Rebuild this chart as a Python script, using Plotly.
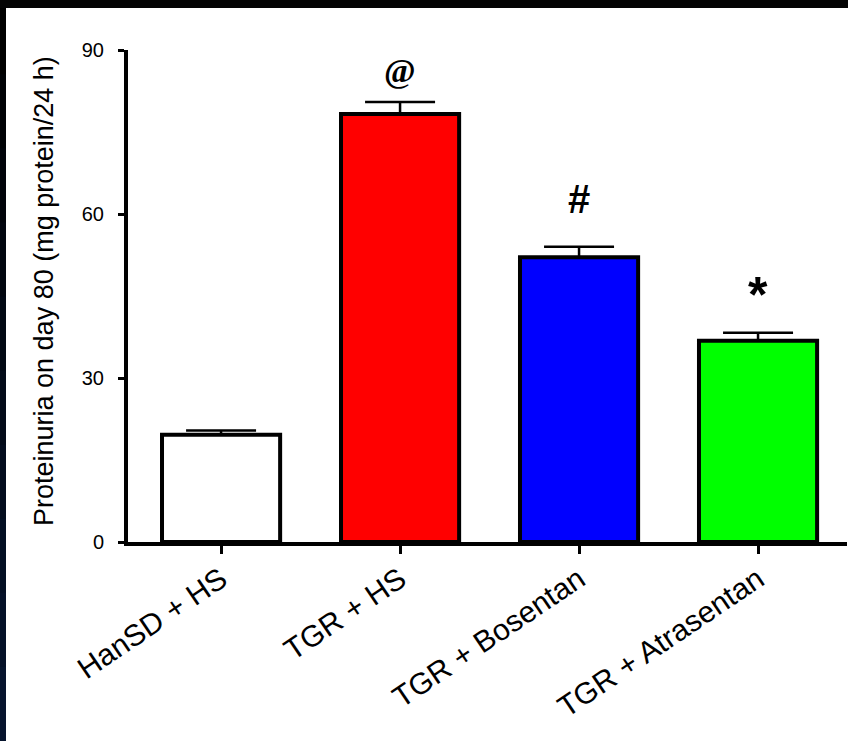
import plotly.graph_objects as go

# Group data
groups = ["HanSD + HS", "TGR + HS", "TGR + Bosentan", "TGR + Atrasentan"]
proteinuria = [19.6, 78.3, 52.1, 36.8]
sem = [0.8, 2.2, 1.9, 1.5]
bar_colors = ["#FFFFFF", "#FF0000", "#0000FF", "#00FF00"]
sig_marks = ["", "@", "#", "*"]
y_ticks = [0, 30, 60, 90]

W, H = 848, 741
L, R, T, B = 128, 1, 50, 199
pw, ph = W - L - R, H - T - B

fig = go.Figure()
fig.add_trace(go.Bar(
    x=list(range(len(groups))),
    y=proteinuria,
    width=0.66,
    marker=dict(color=bar_colors, line=dict(color="black", width=4)),
    error_y=dict(type="data", array=sem, arrayminus=[0] * len(sem),
                 symmetric=False, color="black", thickness=2.5, width=35),
    showlegend=False,
))

# significance symbols above the bars
sig_style = {
    "@": ("Liberation Serif", 34, True, 86.2),
    "#": ("Liberation Sans", 40, True, 62.8),
    "*": ("Liberation Sans", 50, True, 45.2),
}
for i, m in enumerate(sig_marks):
    if not m:
        continue
    fam, sz, bold, yv = sig_style[m]
    fig.add_annotation(x=i, y=yv, text=f"<b>{m}</b>" if bold else m, showarrow=False,
                       xref="x", yref="y", yanchor="middle",
                       font=dict(family=fam, size=sz, color="black"))

# y-axis title
fig.add_annotation(xref="paper", yref="paper", x=(44 - L) / pw, y=(H - B - 291) / ph,
                   text="Proteinuria on day 80 (mg protein/24 h)", textangle=-90,
                   showarrow=False, xanchor="center", yanchor="middle",
                   font=dict(family="Liberation Sans, Arial", size=27, color="black"))

# dark frame strips along the top and left edges
def px_x(px):
    return (px - L) / pw

def px_y(py):
    return (H - B - py) / ph

n = 10
for k in range(n):
    t = k / (n - 1)
    r, g, b = int(6 * t), int(20 * t), int(45 * t)
    fig.add_shape(type="rect", xref="paper", yref="paper",
                  x0=px_x(0), x1=px_x(6),
                  y0=px_y(H * (k + 1) / n + 2), y1=px_y(H * k / n),
                  fillcolor=f"rgb({r},{g},{b})", line_width=0, layer="above")
fig.add_shape(type="rect", xref="paper", yref="paper",
              x0=px_x(0), x1=px_x(W), y0=px_y(8), y1=px_y(0),
              fillcolor="#040404", line_width=0, layer="above")

fig.update_layout(
    width=W, height=H,
    margin=dict(l=L, r=R, t=T, b=B, pad=0),
    paper_bgcolor="white", plot_bgcolor="white",
    xaxis=dict(
        range=[-0.52, 3.497],
        tickmode="array", tickvals=list(range(len(groups))), ticktext=groups,
        tickangle=-34, ticks="outside", ticklen=8, tickwidth=2.5, tickcolor="black",
        showline=True, linecolor="black", linewidth=4, showgrid=False, zeroline=False,
        tickfont=dict(family="Liberation Sans, Arial", size=30, color="black"),
        ticklabelstandoff=-4,
    ),
    yaxis=dict(
        range=[0, 90], tickmode="array", tickvals=y_ticks,
        ticks="outside", ticklen=6, tickwidth=2.5, tickcolor="black",
        showline=True, linecolor="black", linewidth=4, showgrid=False, zeroline=False,
        tickfont=dict(family="Liberation Sans, Arial", size=20, color="black"),
        ticklabelstandoff=10,
    ),
)

fig.write_html("out.html")
